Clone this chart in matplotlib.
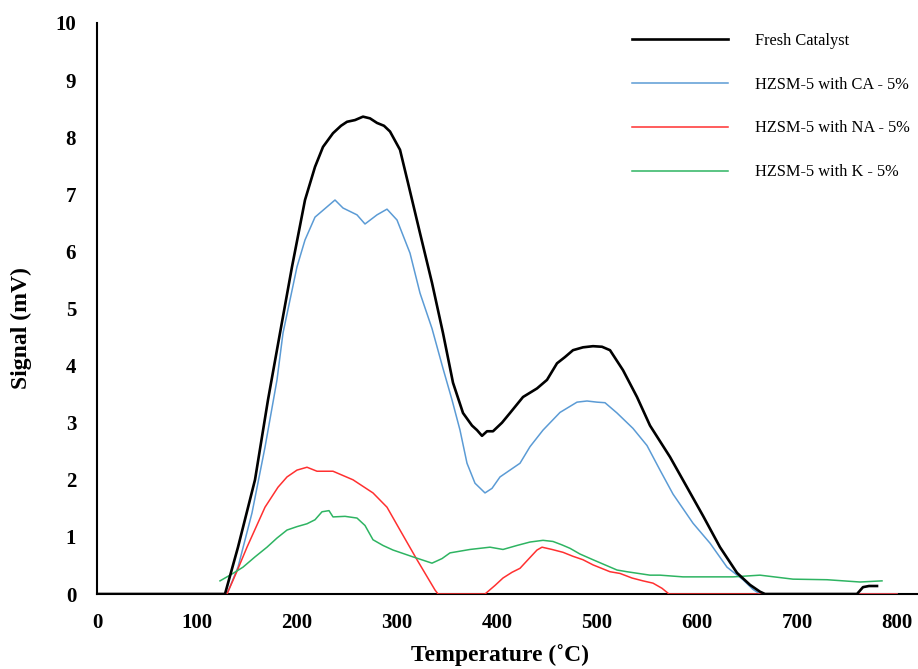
import matplotlib
matplotlib.use("Agg")
import matplotlib.pyplot as plt

# ---- data ----
fresh_T = [0, 128, 141, 158, 171, 183, 195, 208, 218, 226, 236, 244, 250, 258, 266, 273, 280, 287, 293, 303, 311, 323, 335, 346,
           356, 366, 375, 380, 385, 390, 396, 405, 413, 426, 440, 450, 460, 468, 476, 486, 496, 505, 513, 526, 540, 553,
           573, 590, 606, 623, 640, 653, 663, 668, 760, 766, 772, 780]
fresh_V = [0, 0, 0.82, 2.0, 3.4, 4.57, 5.73, 6.9, 7.48, 7.83, 8.07, 8.2, 8.27, 8.3, 8.36, 8.33, 8.25, 8.2, 8.1, 7.78, 7.2, 6.32, 5.45, 4.57,
           3.7, 3.17, 2.95, 2.87, 2.77, 2.85, 2.85, 3.0, 3.17, 3.45, 3.6, 3.75, 4.04, 4.15, 4.27, 4.32, 4.34, 4.33, 4.27, 3.92, 3.45, 2.95,
           2.4, 1.87, 1.37, 0.82, 0.37, 0.16, 0.04, 0, 0, 0.12, 0.14, 0.14]

ca_T = [0, 130, 141, 155, 168, 180, 186, 193, 200, 208, 218, 230, 238, 246, 260, 268, 280, 290, 300, 313, 323, 335, 346, 355,
        363, 370, 378, 388, 395, 403, 423, 433, 446, 463, 480, 490, 500, 508, 520, 536, 550, 563, 576, 596, 613, 630, 646, 656, 663, 800]
ca_V = [0, 0, 0.47, 1.42, 2.57, 3.75, 4.57, 5.15, 5.73, 6.2, 6.6, 6.78, 6.9, 6.76, 6.64, 6.48, 6.64, 6.74, 6.55, 5.97, 5.27, 4.65, 3.95, 3.4,
        2.87, 2.29, 1.94, 1.77, 1.85, 2.05, 2.29, 2.58, 2.87, 3.18, 3.36, 3.38, 3.36, 3.35, 3.17, 2.9, 2.6, 2.17, 1.75, 1.24, 0.89, 0.47, 0.25, 0.08, 0, 0]

na_T = [0, 130, 140, 150, 168, 181, 190, 200, 210, 220, 236, 256, 276, 290, 303, 320, 338, 341, 388, 398, 406, 415, 423, 432,
        440, 445, 455, 466, 476, 486, 496, 513, 523, 535, 546, 556, 565, 572, 800]
na_V = [0, 0, 0.4, 0.82, 1.52, 1.87, 2.05, 2.17, 2.22, 2.15, 2.15, 2.0, 1.77, 1.52, 1.12, 0.6, 0.07, 0, 0, 0.15, 0.28, 0.38, 0.45, 0.62,
        0.77, 0.82, 0.78, 0.73, 0.66, 0.6, 0.51, 0.39, 0.36, 0.28, 0.23, 0.19, 0.1, 0, 0]

k_T = [123, 135, 146, 158, 170, 180, 190, 200, 210, 218, 225, 232, 236, 248, 260, 268, 276, 286, 296, 316, 335, 345, 353, 373,
       393, 406, 420, 433, 446, 456, 465, 473, 483, 496, 520, 530, 553, 563, 586, 596, 636, 663, 696, 730, 763, 785]
k_V = [0.23, 0.35, 0.47, 0.65, 0.82, 0.98, 1.12, 1.18, 1.23, 1.3, 1.44, 1.46, 1.35, 1.36, 1.33, 1.2, 0.95, 0.85, 0.77, 0.65, 0.54, 0.62, 0.72, 0.78,
       0.82, 0.78, 0.85, 0.91, 0.94, 0.92, 0.86, 0.8, 0.7, 0.6, 0.42, 0.39, 0.33, 0.33, 0.3, 0.3, 0.3, 0.33, 0.26, 0.25, 0.21, 0.23]

labels = ["Fresh Catalyst", "HZSM-5 with CA - 5%", "HZSM-5 with NA - 5%", "HZSM-5 with K - 5%"]
x_ticks = [0, 100, 200, 300, 400, 500, 600, 700, 800]
y_ticks = [0, 1, 2, 3, 4, 5, 6, 7, 8, 9, 10]

# ---- figure ----
fig = plt.figure(figsize=(9.18, 6.69), dpi=100)
ax = fig.add_axes([97/918, 75/669, 821/918, 571/669])

ax.plot(fresh_T, fresh_V, color="black", lw=1.9, label=labels[0], zorder=4)
ax.plot(ca_T, ca_V, color="#5B9BD5", lw=1.1, label=labels[1], zorder=3)
ax.plot(na_T, na_V, color="#FF3030", lw=1.1, label=labels[2], zorder=3)
ax.plot(k_T, k_V, color="#2EB462", lw=1.1, label=labels[3], zorder=3)

ax.set_xlim(0, 821)
ax.set_ylim(0, 10)
ax.set_xticks(x_ticks)
ax.set_yticks(y_ticks)
ax.tick_params(length=0)
ax.tick_params(axis="x", pad=14)
ax.tick_params(axis="y", pad=15)
for lab in ax.get_xticklabels() + ax.get_yticklabels():
    lab.set_fontfamily("Liberation Serif")
    lab.set_fontweight("bold")
    lab.set_fontsize(15)

for s in ["top", "right"]:
    ax.spines[s].set_visible(False)
ax.spines["left"].set_linewidth(1.5)
ax.spines["bottom"].set_linewidth(1.5)

ax.set_xlabel("Temperature (˚C)", fontfamily="Liberation Serif", fontweight="bold", fontsize=17, va="center")
ax.xaxis.set_label_coords((500 - 97) / 821, (594 - 655) / 571)
ax.set_ylabel("Signal (mV)", fontfamily="Liberation Serif", fontweight="bold", fontsize=17, va="center")
ax.yaxis.set_label_coords((21 - 97) / 821, (594 - 328) / 571)

leg = ax.legend(loc="upper left", bbox_to_anchor=(617/918, 1 - 18/669), bbox_transform=fig.transFigure,
                frameon=False, prop={"family": "Liberation Serif", "size": 11.8},
                handlelength=5.9, handletextpad=1.65, labelspacing=1.7)

fig.savefig("out.png", dpi=100)
